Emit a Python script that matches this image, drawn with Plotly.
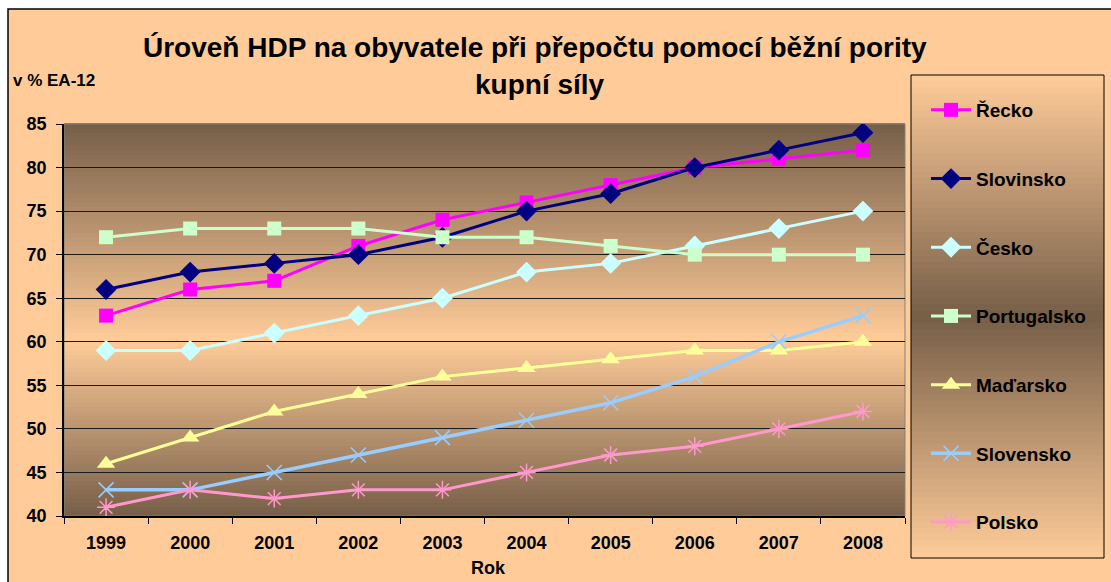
import plotly.graph_objects as go

years = ["1999", "2000", "2001", "2002", "2003", "2004", "2005", "2006", "2007", "2008"]

recko = [63, 66, 67, 71, 74, 76, 78, 80, 81, 82]
slovinsko = [66, 68, 69, 70, 72, 75, 77, 80, 82, 84]
cesko = [59, 59, 61, 63, 65, 68, 69, 71, 73, 75]
portugalsko = [72, 73, 73, 73, 72, 72, 71, 70, 70, 70]
madarsko = [46, 49, 52, 54, 56, 57, 58, 59, 59, 60]
slovensko = [43, 43, 45, 47, 49, 51, 53, 56, 60, 63]
polsko = [41, 43, 42, 43, 43, 45, 47, 48, 50, 52]

series_names = ["Řecko", "Slovinsko", "Česko", "Portugalsko", "Maďarsko", "Slovensko", "Polsko"]
series_values = [recko, slovinsko, cesko, portugalsko, madarsko, slovensko, polsko]

styles = [
    dict(color="#FF00FF", symbol="square", size=14, lw=3),
    dict(color="#000080", symbol="diamond", size=16, lw=3),
    dict(color="#CCFFFF", symbol="diamond", size=16, lw=3),
    dict(color="#CCFFCC", symbol="square", size=14, lw=3),
    dict(color="#FFFF99", symbol="triangle-up", size=16, lw=3),
    dict(color="#99CCFF", symbol="x-thin", size=15, lw=3.5),
    dict(color="#FF99CC", symbol="asterisk", size=15, lw=3),
]

FONT = "Arial, Liberation Sans, sans-serif"

fig = go.Figure()
for i, (name, vals, st) in enumerate(zip(series_names, series_values, styles)):
    if st["symbol"] in ("x-thin", "asterisk"):
        marker = dict(symbol=st["symbol"], size=st["size"], color=st["color"],
                      line=dict(color=st["color"], width=1.5))
    else:
        marker = dict(symbol=st["symbol"], size=st["size"], color=st["color"],
                      line=dict(width=0))
    fig.add_trace(go.Scatter(
        x=years, y=vals, name=name, mode="lines+markers",
        line=dict(color=st["color"], width=st["lw"]),
        marker=marker, legendgroup=f"g{i}",
    ))

W, H = 1111, 582
L, R, T, B = 64, 905, 124, 516
pw, ph = R - L, B - T


def px_x(x):
    return (x - L) / pw


def px_y(y):
    return (B - y) / ph


def lerp(c1, c2, t):
    return "rgb(%d,%d,%d)" % tuple(round(a + (b - a) * t) for a, b in zip(c1, c2))


dark = (118, 94, 72)
light = (255, 204, 153)

shapes = []
# outer chart area
shapes.append(dict(type="rect", xref="paper", yref="paper",
                   x0=px_x(8), x1=px_x(1130), y0=px_y(600), y1=px_y(9),
                   fillcolor="#FFCC99", line=dict(color="black", width=1.5), layer="below"))

# plot area gradient: dark top/bottom, light near middle
N = 90
center = 0.45
for k in range(N):
    f0 = k / N
    f1 = (k + 1) / N
    fm = (f0 + f1) / 2
    if fm < center:
        t = fm / center
    else:
        t = (1 - fm) / (1 - center)
    shapes.append(dict(type="rect", xref="paper", yref="paper",
                       x0=0, x1=1, y0=f0, y1=f1 + 0.002,
                       fillcolor=lerp(dark, light, t), line=dict(width=0), layer="below"))
# plot area border (right/top grey)
shapes.append(dict(type="rect", xref="paper", yref="paper", x0=0, x1=1, y0=0, y1=1,
                   line=dict(color="#808080", width=1), fillcolor="rgba(0,0,0,0)", layer="below"))

# legend box gradient: light top/bottom, dark middle
lx0, lx1 = px_x(911), px_x(1104)
ly0, ly1 = px_y(558), px_y(75)
M = 80
for k in range(M):
    f0 = k / M
    f1 = (k + 1) / M
    fm = (f0 + f1) / 2
    t = abs(fm - 0.5) / 0.5
    shapes.append(dict(type="rect", xref="paper", yref="paper",
                       x0=lx0, x1=lx1, y0=ly0 + (ly1 - ly0) * f0, y1=ly0 + (ly1 - ly0) * f1 + 0.002,
                       fillcolor=lerp(dark, light, t), line=dict(width=0), layer="below"))
shapes.append(dict(type="rect", xref="paper", yref="paper", x0=lx0, x1=lx1, y0=ly0, y1=ly1,
                   line=dict(color="black", width=1), fillcolor="rgba(0,0,0,0)", layer="below"))

annotations = [
    dict(text="<b>Úroveň HDP na obyvatele při přepočtu pomocí běžní pority</b>",
         xref="paper", yref="paper", x=px_x(535), y=px_y(47), xanchor="center", yanchor="middle",
         showarrow=False, font=dict(family=FONT, size=28, color="black")),
    dict(text="<b>kupní síly</b>",
         xref="paper", yref="paper", x=px_x(540), y=px_y(85), xanchor="center", yanchor="middle",
         showarrow=False, font=dict(family=FONT, size=28, color="black")),
    dict(text="<b>v % EA-12</b>",
         xref="paper", yref="paper", x=px_x(11), y=px_y(80), xanchor="left", yanchor="middle",
         showarrow=False, font=dict(family=FONT, size=17, color="black")),
    dict(text="<b>Rok</b>",
         xref="paper", yref="paper", x=px_x(489), y=px_y(568), xanchor="center", yanchor="middle",
         showarrow=False, font=dict(family=FONT, size=18, color="black")),
]

fig.update_layout(
    width=W, height=H,
    margin=dict(l=L, r=W - R, t=T, b=H - B, autoexpand=False),
    paper_bgcolor="white",
    plot_bgcolor="rgba(0,0,0,0)",
    font=dict(family=FONT, color="black"),
    shapes=shapes,
    annotations=annotations,
    showlegend=True,
    legend=dict(
        x=px_x(926), y=px_y(91), xanchor="left", yanchor="top",
        bgcolor="rgba(0,0,0,0)", borderwidth=0,
        font=dict(family=FONT, size=19, color="black", weight="bold"),
        traceorder="grouped", tracegroupgap=41,
        itemwidth=40, maxheight=800,
    ),
    xaxis=dict(
        type="category", range=[-0.5, 9.5], tickson="boundaries",
        ticks="outside", ticklen=6, tickcolor="black", tickwidth=1,
        showline=True, linecolor="black", linewidth=1.5,
        showgrid=False, zeroline=False,
        tickfont=dict(family=FONT, size=18, color="black", weight="bold"),
        ticklabelstandoff=10,
    ),
    yaxis=dict(
        range=[40, 85], dtick=5, tick0=40,
        ticks="outside", ticklen=6, tickcolor="black", tickwidth=1,
        showline=True, linecolor="black", linewidth=1.5,
        showgrid=True, gridcolor="#1a1a1a", gridwidth=1,
        zeroline=False,
        tickfont=dict(family=FONT, size=18, color="black", weight="bold"),
        ticklabelstandoff=6,
    ),
)

fig.write_html("out.html", config={"displayModeBar": False},
               post_script="document.body.style.margin='0';document.body.style.overflow='hidden';")
